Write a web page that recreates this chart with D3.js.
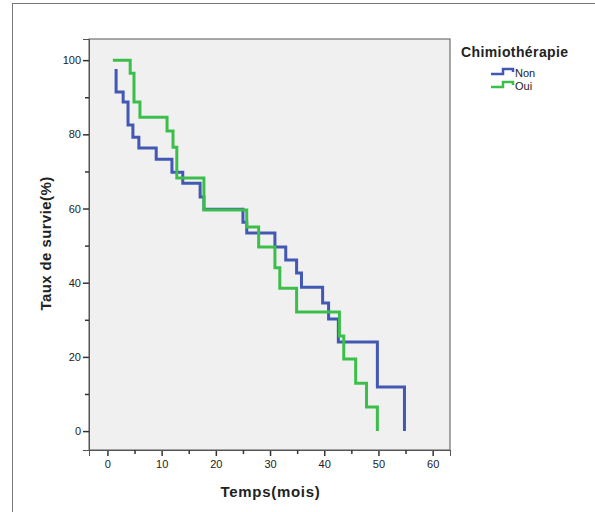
<!DOCTYPE html>
<html>
<head>
<meta charset="utf-8">
<script src="https://cdn.jsdelivr.net/npm/d3@7"></script>
<style>
  body { margin: 0; background: #fff; }
  svg text { font-family: "Liberation Sans", Arial, sans-serif; fill: #222; }
</style>
</head>
<body>
<div id="chart"></div>
<script>
// courbes de survie (Kaplan-Meier)
var groupes = ["Non", "Oui"];
var couleurs = ["#4258b2", "#3cbf4a"];

// Non : temps (mois) et taux de survie (%)
var tempsNon = [1.6, 1.6, 2.9, 3.8, 4.7, 5.8, 9.0, 11.9, 13.9, 17.1, 17.8, 25.0, 25.7, 30.9, 32.9, 34.9, 35.8, 39.7, 40.8, 42.6, 49.8, 54.8];
var survieNon = [97.6, 91.4, 88.7, 82.5, 79.2, 76.3, 73.3, 69.8, 66.8, 63.1, 59.8, 56.3, 53.4, 49.6, 46.1, 42.6, 38.8, 34.5, 30.2, 24.0, 11.9, 0];

// Oui
var tempsOui = [1.0, 4.2, 4.9, 6.0, 11.0, 12.1, 12.8, 17.8, 25.7, 27.9, 30.9, 31.8, 34.9, 42.8, 43.6, 45.8, 47.8, 49.8];
var survieOui = [100, 96.5, 88.7, 84.6, 80.9, 76.5, 68.2, 59.6, 55.0, 49.6, 44.0, 38.5, 32.1, 25.6, 19.4, 12.9, 6.5, 0];

var xTicks = [0, 10, 20, 30, 40, 50, 60];
var xMinor = [5, 15, 25, 35, 45, 55];
var yTicks = [0, 20, 40, 60, 80, 100];
var yMinor = [10, 30, 50, 70, 90];

var width = 595, height = 512;
var plot = { left: 89, right: 450, top: 39, bottom: 450 };

var svg = d3.select("#chart").append("svg")
    .attr("width", width)
    .attr("height", height);

// cadre extérieur
svg.append("rect")
    .attr("x", 12.5).attr("y", 3.5)
    .attr("width", 600).attr("height", 520)
    .attr("fill", "#fff")
    .attr("stroke", "#777")
    .attr("stroke-width", 1);

var xScale = d3.scaleLinear().domain([-3.4, 63.2]).range([plot.left, plot.right]);
var yScale = d3.scaleLinear().domain([-5.1, 105.7]).range([plot.bottom, plot.top]);

// fond du graphique
svg.append("rect")
    .attr("x", plot.left).attr("y", plot.top)
    .attr("width", plot.right - plot.left)
    .attr("height", plot.bottom - plot.top)
    .attr("fill", "#f0f0f0")
    .attr("stroke", "#555")
    .attr("stroke-width", 1);

// axe X
svg.append("g")
    .attr("transform", "translate(0," + plot.bottom + ")")
    .call(d3.axisBottom(xScale).tickValues(xTicks).tickSize(6).tickPadding(4));
svg.append("g")
    .attr("transform", "translate(0," + plot.bottom + ")")
    .call(d3.axisBottom(xScale).tickValues(xMinor).tickSize(4).tickFormat(""));

// axe Y
svg.append("g")
    .attr("transform", "translate(" + plot.left + ",0)")
    .call(d3.axisLeft(yScale).tickValues(yTicks).tickSize(6).tickPadding(2));
svg.append("g")
    .attr("transform", "translate(" + plot.left + ",0)")
    .call(d3.axisLeft(yScale).tickValues(yMinor).tickSize(4).tickFormat(""));

svg.selectAll(".domain").attr("stroke", "#555");
svg.selectAll(".tick line").attr("stroke", "#333").attr("stroke-width", 1.5);
svg.selectAll(".tick text").attr("font-size", 11).attr("fill", "#333")
    .attr("font-family", "Liberation Sans, Arial, sans-serif");

// titres des axes
svg.append("text")
    .attr("x", (plot.left + plot.right) / 2 + 1)
    .attr("y", 497)
    .attr("text-anchor", "middle")
    .attr("font-size", 15)
    .attr("letter-spacing", 0.7)
    .attr("font-weight", "bold")
    .text("Temps(mois)");

svg.append("text")
    .attr("transform", "translate(51," + ((plot.top + plot.bottom) / 2 - 1) + ") rotate(-90)")
    .attr("text-anchor", "middle")
    .attr("font-size", 15)
    .attr("letter-spacing", 0.4)
    .attr("font-weight", "bold")
    .text("Taux de survie(%)");

// courbes en escalier
var ligne = d3.line()
    .curve(d3.curveStepAfter)
    .x(function(d) { return xScale(d[0]); })
    .y(function(d) { return yScale(d[1]); });

var series = [d3.zip(tempsNon, survieNon), d3.zip(tempsOui, survieOui)];

series.forEach(function(serie, i) {
    svg.append("path")
        .datum(serie)
        .attr("fill", "none")
        .attr("stroke", couleurs[i])
        .attr("stroke-width", 3)
        .attr("d", ligne);
});

// légende
svg.append("text")
    .attr("x", 461).attr("y", 57)
    .attr("font-size", 14)
    .attr("letter-spacing", 0.4)
    .attr("font-weight", "bold")
    .text("Chimiothérapie");

groupes.forEach(function(g, i) {
    var y0 = 74 + i * 13;
    svg.append("path")
        .attr("d", "M491," + y0 + "H503V" + (y0 - 5) + "H513V" + (y0 - 2))
        .attr("fill", "none")
        .attr("stroke", couleurs[i])
        .attr("stroke-width", 2.5);
    svg.append("text")
        .attr("x", 515).attr("y", y0 + 3)
        .attr("font-size", 11)
        .text(g);
});
</script>
</body>
</html>
